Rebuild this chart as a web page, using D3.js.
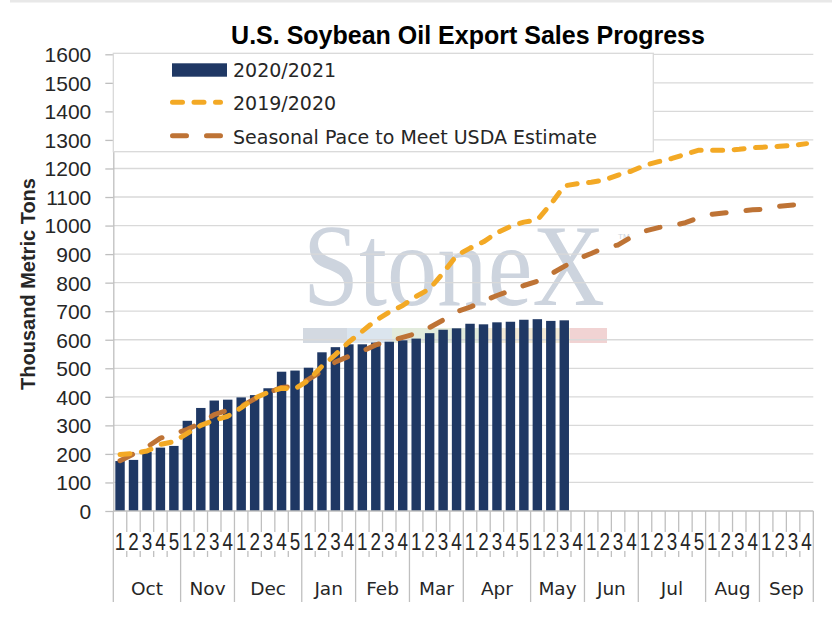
<!DOCTYPE html>
<html>
<head>
<meta charset="utf-8">
<script src="https://cdn.jsdelivr.net/npm/d3@7"></script>
<style>
  html, body { margin: 0; padding: 0; background: #ffffff; }
  svg { display: block; }
</style>
</head>
<body>
<svg id="chart" width="832" height="624"></svg>
<script>
// ---------------- DATA ----------------
const months = ["Oct","Nov","Dec","Jan","Feb","Mar","Apr","May","Jun","Jul","Aug","Sep"];
const weeksPerMonth = [5,4,5,4,4,4,5,4,4,5,4,4];
const yTicks = [0,100,200,300,400,500,600,700,800,900,1000,1100,1200,1300,1400,1500,1600];
const seriesNames = ["2020/2021","2019/2020","Seasonal Pace to Meet USDA Estimate"];

// 2020/2021 cumulative export sales (bars), Oct wk1 .. May wk3
const sales2021 = [175,179,207,222,228,316,361,387,390,398,406,430,488,492,502,556,574,584,584,590,
                   593,598,604,623,635,640,656,654,661,663,670,672,666,668];
// 2019/2020 (dashed gold line)
const sales2020 = [198,202,210,233,243,272,300,318,332,362,395,416,430,428,458,507,548,592,630,668,
                   697,720,752,778,834,895,921,943,975,997,1012,1020,1075,1139,1147,1152,1160,1177,1191,1211,
                   1224,1235,1250,1264,1264,1264,1267,1273,1275,1278,1281,1287];
// Seasonal pace to meet USDA estimate (long-dash brown line)
const seasonalPace = [176,200,224,255,270,286,309,338,353,367,393,414,433,437,461,490,522,542,560,582,
                      595,608,622,643,669,698,714,736,755,772,790,805,830,857,883,902,923,932,960,981,
                      993,999,1010,1028,1040,1045,1051,1055,1058,1068,1072,1075];

// ---------------- BUILD CATEGORIES ----------------
const categories = [];
months.forEach((m, mi) => {
  for (let w = 1; w <= weeksPerMonth[mi]; w++) categories.push({ id: m + "-" + w, month: m, week: String(w) });
});

// ---------------- STYLES ----------------
const colBar = "#1f3864";
const colGold = "#f3a925";
const colBrown = "#be7335";
const colGrid = "#d9d9d9";
const colAxis = "#bfbfbf";

const svg = d3.select("#chart");
const plotL = 113.3, plotR = 813.3, plotT = 54.3, plotB = 511;

const x = d3.scaleBand()
  .domain(categories.map(d => d.id))
  .range([plotL, plotR])
  .paddingInner(0.3)
  .paddingOuter(0.15);
const y = d3.scaleLinear().domain([0, 1600]).range([plotB, plotT]);
const cx = id => x(id) + x.bandwidth() / 2;
const step = x.step();
const bound = k => x.range()[0] + k * step;

// chart area top border hint
svg.append("rect").attr("x", 10).attr("y", 0).attr("width", 822).attr("height", 2.5).attr("fill", "#e8e8e8");

// ---------------- WATERMARK ----------------
const wm = svg.append("g").attr("class", "watermark");
wm.append("text")
  .attr("transform", "translate(303,305) scale(0.868,1)")
  .style("font-family", "'Liberation Serif', 'DejaVu Serif', serif")
  .style("font-size", "116px")
  .attr("fill", "#cdd4de")
  .text("StoneX");
wm.append("text")
  .attr("x", 618).attr("y", 239)
  .style("font-family", "'Liberation Sans', sans-serif")
  .style("font-size", "8px")
  .attr("fill", "#cdd4de")
  .text("TM");
const wmBars = [
  { x0: 303, x1: 347, c: "#d3d9e1" },
  { x0: 347, x1: 392, c: "#dbe5ee" },
  { x0: 392, x1: 480, c: "#e2ebdc" },
  { x0: 480, x1: 570, c: "#f3ead6" },
  { x0: 570, x1: 607, c: "#f1d3d3" }
];
wm.selectAll("rect").data(wmBars).join("rect")
  .attr("x", d => d.x0).attr("y", 328).attr("width", d => d.x1 - d.x0).attr("height", 15)
  .attr("fill", d => d.c);

// ---------------- GRIDLINES ----------------
svg.append("g").selectAll("line").data(yTicks.filter(t => t > 0)).join("line")
  .attr("x1", plotL).attr("x2", plotR)
  .attr("y1", d => y(d)).attr("y2", d => y(d))
  .attr("stroke", colGrid).attr("stroke-width", 1.3);

// ---------------- Y AXIS ----------------
const yAxis = d3.axisLeft(y).tickValues(yTicks).tickFormat(d3.format("d"))
  .tickSize(8).tickSizeOuter(0).tickPadding(14);
const gy = svg.append("g").attr("transform", `translate(${plotL},0)`).call(yAxis);
gy.select(".domain").attr("stroke", colAxis).attr("stroke-width", 1.3);
gy.selectAll(".tick line").attr("stroke", colAxis).attr("stroke-width", 1.3);
gy.selectAll(".tick text")
  .style("font-family", "'Liberation Sans', Arial, sans-serif")
  .style("font-size", "21px")
  .attr("fill", "#262626")
  .attr("dy", "0.35em");

// ---------------- BARS ----------------
svg.append("g").selectAll("rect").data(sales2021).join("rect")
  .attr("x", (d, i) => x(categories[i].id))
  .attr("y", d => y(d))
  .attr("width", x.bandwidth())
  .attr("height", d => y(0) - y(d))
  .attr("fill", colBar);

// ---------------- LINES ----------------
const lineGen = d3.line().x((d, i) => cx(categories[i].id)).y(d => y(d));
svg.append("path").datum(seasonalPace)
  .attr("d", lineGen)
  .attr("fill", "none").attr("stroke", colBrown).attr("stroke-width", 5)
  .attr("stroke-linecap", "round").attr("stroke-linejoin", "round")
  .attr("stroke-dasharray", "14,20");
svg.append("path").datum(sales2020)
  .attr("d", lineGen)
  .attr("fill", "none").attr("stroke", colGold).attr("stroke-width", 5)
  .attr("stroke-linecap", "round").attr("stroke-linejoin", "round")
  .attr("stroke-dasharray", "10,11.5");

// ---------------- X AXIS ----------------
const gx = svg.append("g");
gx.append("line").attr("x1", plotL).attr("x2", plotR).attr("y1", plotB).attr("y2", plotB)
  .attr("stroke", colAxis).attr("stroke-width", 1.3);

// month boundaries (category index where each month starts)
const monthStarts = [];
let acc = 0;
weeksPerMonth.forEach(n => { monthStarts.push(acc); acc += n; });
monthStarts.push(acc);
const isMonthBound = new Set(monthStarts);

// week separators
const weekBounds = d3.range(1, categories.length).filter(k => !isMonthBound.has(k));
gx.selectAll("line.wk1").data(weekBounds).join("line").attr("class", "wk1")
  .attr("x1", k => bound(k)).attr("x2", k => bound(k)).attr("y1", plotB).attr("y2", 532)
  .attr("stroke", colAxis).attr("stroke-width", 1.3);
gx.selectAll("line.wk2").data(weekBounds).join("line").attr("class", "wk2")
  .attr("x1", k => bound(k)).attr("x2", k => bound(k)).attr("y1", 551).attr("y2", 557)
  .attr("stroke", colAxis).attr("stroke-width", 1.3);
// month separators
gx.selectAll("line.mb").data(monthStarts).join("line").attr("class", "mb")
  .attr("x1", k => bound(k)).attr("x2", k => bound(k)).attr("y1", plotB).attr("y2", 602)
  .attr("stroke", colAxis).attr("stroke-width", 1.3);

// week labels
gx.selectAll("text.wk").data(categories).join("text").attr("class", "wk")
  .attr("transform", d => `translate(${cx(d.id)},550) scale(0.82,1)`)
  .attr("text-anchor", "middle")
  .style("font-family", "'Liberation Sans', Arial, sans-serif")
  .style("font-size", "23px")
  .attr("fill", "#262626")
  .text(d => d.week);

// month labels
gx.selectAll("text.mo").data(months).join("text").attr("class", "mo")
  .attr("x", (m, i) => (bound(monthStarts[i]) + bound(monthStarts[i + 1])) / 2)
  .attr("y", 595)
  .attr("text-anchor", "middle")
  .style("font-family", "'DejaVu Sans', sans-serif")
  .style("font-size", "18.5px")
  .attr("fill", "#262626")
  .text(m => m);

// ---------------- AXIS TITLE ----------------
svg.append("text")
  .attr("transform", "translate(35,284) rotate(-90)")
  .attr("text-anchor", "middle")
  .style("font-family", "'Liberation Sans', Arial, sans-serif")
  .style("font-size", "20px").style("font-weight", "bold")
  .attr("fill", "#262626")
  .text("Thousand Metric Tons");

// ---------------- TITLE ----------------
svg.append("text")
  .attr("x", 468).attr("y", 44)
  .attr("text-anchor", "middle")
  .style("font-family", "'Liberation Sans', Arial, sans-serif")
  .style("font-size", "25px").style("font-weight", "bold")
  .attr("fill", "#000000")
  .text("U.S. Soybean Oil Export Sales Progress");

// ---------------- LEGEND ----------------
const lg = svg.append("g");
lg.append("rect").attr("x", 113.3).attr("y", 53.3).attr("width", 540).attr("height", 98.4)
  .attr("fill", "#ffffff").attr("stroke", colGrid).attr("stroke-width", 1.3);
lg.append("rect").attr("x", 172).attr("y", 63.3).attr("width", 55).attr("height", 13.4).attr("fill", colBar);
lg.append("line").attr("x1", 172.5).attr("x2", 220.5).attr("y1", 102.3).attr("y2", 102.3)
  .attr("stroke", colGold).attr("stroke-width", 5).attr("stroke-linecap", "round").attr("stroke-dasharray", "10,11.5");
lg.append("line").attr("x1", 172.5).attr("x2", 220.5).attr("y1", 135.7).attr("y2", 135.7)
  .attr("stroke", colBrown).attr("stroke-width", 5).attr("stroke-linecap", "round").attr("stroke-dasharray", "14,20");
const legendY = [77, 110, 143.5];
lg.selectAll("text.lt").data(seriesNames).join("text").attr("class", "lt")
  .attr("x", 233).attr("y", (d, i) => legendY[i])
  .style("font-family", "'DejaVu Sans', sans-serif")
  .style("font-size", "19px")
  .attr("fill", "#262626")
  .text(d => d);
</script>
</body>
</html>
